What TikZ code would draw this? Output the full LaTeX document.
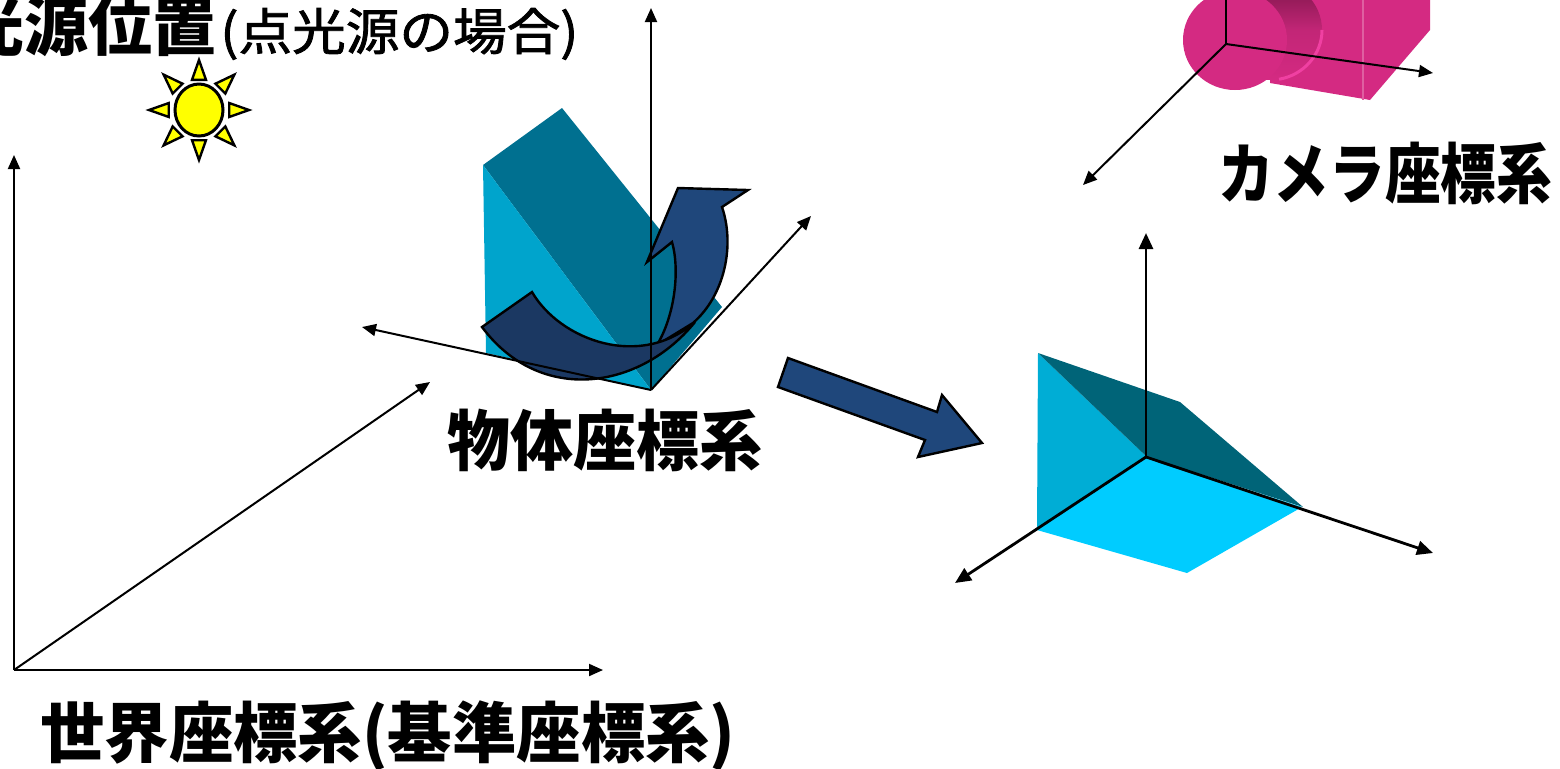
\documentclass[tikz,border=0pt]{standalone}
\usepackage{fontspec}
\setmainfont{Noto Sans CJK JP}
\newfontfamily\jpmedium{Noto Sans CJK JP}[FakeBold=1.6]
\usetikzlibrary{arrows.meta}
\definecolor{navy}{HTML}{1F477B}
\definecolor{navydark}{HTML}{1B3862}
\definecolor{tealdark}{HTML}{007090}
\definecolor{teallight}{HTML}{00A4CC}
\definecolor{cubelight}{HTML}{00ADD5}
\definecolor{cubedark}{HTML}{006478}
\definecolor{cubefloor}{HTML}{00CCFF}
\definecolor{campink}{HTML}{D42A82}
\definecolor{camdeep}{HTML}{7A1548}
\definecolor{camglow}{HTML}{F040A2}
\definecolor{sunyellow}{HTML}{FFFF00}
\begin{document}
\begin{tikzpicture}[x=0.5pt,y=-0.5pt,
  axis/.style={line width=1pt,-{Triangle[length=7pt,width=6pt]}},
  axisbold/.style={line width=1.4pt,-{Triangle[length=8pt,width=7pt]}},
  plainaxis/.style={line width=1pt},
  outlined/.style={draw=black,line width=1.2pt,line join=miter},
  sunpart/.style={draw=black,fill=sunyellow,line width=1.2pt,line join=miter},
  label/.style={inner sep=0pt,font=\fontsize{33}{33}\selectfont\bfseries},
]
\useasboundingbox (0,0) rectangle (1560,768);
\clip (0,0) rectangle (1560,768);

% ---- light source ----
\begin{scope}[shift={(199,110)}]
  \foreach \a in {0,45,...,315}
    \draw[sunpart] (\a-13:31) -- (\a:50) -- (\a+13:31) -- cycle;
  \draw[sunpart,line width=1.5pt] (0,0) ellipse [x radius=24,y radius=26];
\end{scope}

% ---- object: wedge ----
\fill[tealdark] (483,165) -- (562,108) -- (722,307) -- (651,390) -- cycle;
\fill[teallight] (483,165) -- (486,353) -- (651,390) -- cycle;

% ---- rotation arrow (back part, then front part) ----
\draw[outlined,fill=navy] (657,345) .. controls (675,315) and (680,270) .. (672,242)
  -- (647,262) -- (678,188) -- (748,190) -- (722,207)
  .. controls (735,245) and (725,295) .. (693,323) -- cycle;
\draw[outlined,fill=navydark] (482,327) -- (532,292)
  .. controls (560,340) and (640,370) .. (695,322)
  .. controls (640,390) and (540,405) .. (482,327) -- cycle;

% ---- transformation arrow ----
\draw[outlined,fill=navy] (788,358) -- (937,412) -- (942,395) -- (982,443)
  -- (918,457) -- (925,440) -- (778,387) -- cycle;

% ---- transformed wedge ----
\fill[cubefloor] (1147,457) -- (1302,507) -- (1187,573) -- (1037,530) -- cycle;
\fill[cubelight] (1038,353) -- (1037,530) -- (1147,457) -- cycle;
\fill[cubedark] (1038,353) -- (1180,402) -- (1303,507) -- (1147,457) -- cycle;

% ---- camera: body, lens barrel, lens face ----
\fill[campink] (1275,-10) -- (1430,-10) -- (1430,30) -- (1370,100) -- (1270,83) -- cycle;
\draw[campink!75!white,line width=0.8pt] (1363,-10) -- (1363,100);
\shade[top color=camdeep,bottom color=campink,middle color=campink!80!camdeep]
  (1270,30) ellipse [x radius=52,y radius=50];
\draw[camglow,line width=1.5pt] (1322,30) arc[start angle=0,end angle=80,x radius=52,y radius=50];
\fill[campink] (1235,40) ellipse [x radius=52,y radius=50];

% ---- world axes ----
\coordinate (wo) at (14,670);
\coordinate (wy) at (14,155);
\coordinate (wx) at (603,670);
\coordinate (wz) at (430,382);
\draw[axis] (wo) -- (wy);
\draw[axis] (wo) -- (wx);
\draw[axis] (wo) -- (wz);

% ---- object axes ----
\coordinate (oo) at (651,390);
\coordinate (oy) at (651,8);
\coordinate (ox) at (362,327);
\coordinate (oz) at (811,216);
\draw[axis] (oo) -- (oy);
\draw[axis] (oo) -- (ox);
\draw[axis] (oo) -- (oz);

% ---- transformed axes ----
\coordinate (to) at (1146,457);
\coordinate (ty) at (1146,233);
\coordinate (tx) at (955,583);
\coordinate (tz) at (1433,553);
\draw[axisbold] (to) -- (ty);
\draw[axisbold] (to) -- (tx);
\draw[axisbold] (to) -- (tz);

% ---- camera axes ----
\coordinate (co) at (1226,44);
\coordinate (cy) at (1226,-10);
\coordinate (cx) at (1433,73);
\coordinate (cz) at (1083,185);
\draw[plainaxis] (co) -- (cy);
\draw[axis] (co) -- (cx);
\draw[axis] (co) -- (cz);

% ---- labels ----
\node[inner sep=0pt,anchor=base east,font=\fontsize{32}{32}\selectfont\bfseries] (lightpos) at (217,50) {光源位置};
\node[inner sep=0pt,anchor=base west,font=\fontsize{25}{25}\selectfont\jpmedium] (pointlight) at (220,50) {\resizebox{179pt}{\height}{(点光源の場合)}};
\node[label] (objlabel) at (605,440) {\resizebox{157.5pt}{\height}{物体座標系}};
\node[label] (camlabel) at (1385,173) {\resizebox{167pt}{\height}{カメラ座標系}};
\node[label] (worldlabel) at (388,736) {\resizebox{347.5pt}{\height}{世界座標系(基準座標系)}};
\end{tikzpicture}
\end{document}
